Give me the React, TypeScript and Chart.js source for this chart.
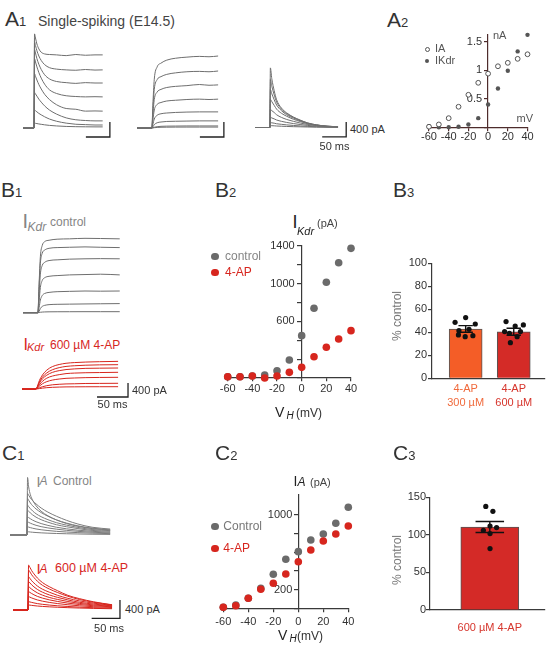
import React, { useEffect, useRef } from 'react';
import { Chart, registerables } from 'chart.js';

Chart.register(...registerables);

const FONT = "'Liberation Sans', Arial, Helvetica, sans-serif";

/* ===================== DATA ===================== */

// scale bar sizes for the current traces
const SCALE_MS = 50;
const SCALE_PA = 400;

// A1 – mixed outward current (ms / pA)
const A1_TOTAL_TIME = [0, 23, 24, 26, 29, 33, 38, 45, 55, 70, 90, 110, 130, 150, 166];
const A1_TOTAL = [
  [0, 0, 2510, 2400, 2240, 2110, 2020, 1975, 1960, 1950, 1930, 1960, 1940, 1950, 1950],
  [0, 0, 2300, 2200, 2060, 1920, 1800, 1690, 1610, 1570, 1550, 1540, 1560, 1545, 1550],
  [0, 0, 2100, 2000, 1850, 1700, 1560, 1420, 1310, 1240, 1210, 1190, 1210, 1200, 1200],
  [0, 0, 1850, 1760, 1630, 1480, 1330, 1170, 1020, 920, 860, 840, 830, 835, 830],
  [0, 0, 1450, 1380, 1280, 1160, 1040, 900, 760, 620, 520, 500, 450, 455, 450],
  [0, 0, 950, 910, 850, 770, 690, 590, 480, 370, 270, 220, 200, 190, 190],
  [0, 0, 480, 460, 430, 390, 350, 300, 240, 180, 130, 100, 90, 80, 80],
  [0, 0, 130, 125, 118, 108, 98, 85, 70, 55, 42, 35, 32, 30, 30],
];
// A1 – IKdr
const A1_KDR_TIME = [0, 31, 33, 36, 42, 50, 62, 80, 104, 130, 150, 169];
const A1_KDR = [
  [0, 0, 600, 1300, 1630, 1730, 1810, 1860, 1890, 1910, 1900, 1920],
  [0, 0, 470, 1030, 1290, 1370, 1430, 1470, 1500, 1510, 1500, 1520],
  [0, 0, 340, 760, 960, 1030, 1080, 1110, 1130, 1160, 1140, 1150],
  [0, 0, 200, 480, 630, 680, 720, 740, 760, 770, 760, 770],
  [0, 0, 90, 240, 340, 380, 400, 415, 425, 430, 430, 430],
  [0, 0, 30, 90, 140, 160, 175, 180, 185, 190, 190, 190],
  [0, 0, 5, 20, 35, 45, 50, 52, 55, 55, 55, 55],
  [0, 0, 2, 8, 15, 20, 22, 24, 25, 25, 25, 25],
];
// A1 – IA
const A1_IA_TIME = [0, 31, 32, 35, 40, 45, 55, 66, 80, 94, 110, 128, 150, 173];
const A1_IA = [
  [0, 0, 1590, 1300, 980, 740, 520, 390, 280, 200, 120, 70, 35, 20],
  [0, 0, 1280, 1100, 870, 680, 490, 370, 270, 190, 120, 70, 35, 20],
  [0, 0, 1010, 900, 740, 600, 450, 340, 250, 180, 110, 65, 35, 20],
  [0, 0, 750, 690, 590, 490, 380, 300, 220, 160, 100, 60, 30, 15],
  [0, 0, 480, 450, 400, 340, 270, 215, 165, 120, 80, 50, 25, 15],
  [0, 0, 270, 255, 230, 200, 165, 135, 105, 80, 55, 35, 20, 10],
  [0, 0, 130, 125, 115, 100, 85, 70, 55, 42, 30, 20, 12, 8],
  [0, 0, 50, 48, 45, 40, 34, 28, 22, 18, 13, 9, 6, 4],
];

// A2 – I-V (nA vs mV)
const A2_VOLT = [-60, -50, -40, -30, -20, -10, 0, 10, 20, 30, 40];
const A2_IA = [0.01, 0.05, 0.16, 0.36, 0.57, 0.78, 0.94, 1.07, 1.13, 1.2, 1.28];
const A2_IKDR = [0.02, 0.0, 0.0, 0.01, 0.05, 0.16, 0.4, 0.68, 0.99, 1.33, 1.62];
const A2_XTICKS = [-60, -40, -20, 0, 20, 40];
const A2_YTICKS = [0, 0.5, 1, 1.5];

// B1 – IKdr traces
const B1_CTRL_TIME = [0, 24, 26, 28, 31, 35, 42, 55, 75, 100, 125, 156];
const B1_CTRL = [
  [0, 0, 850, 1600, 1920, 2030, 2070, 2100, 2110, 2125, 2120, 2110],
  [0, 0, 750, 1410, 1700, 1790, 1840, 1860, 1870, 1880, 1870, 1860],
  [0, 0, 560, 1100, 1350, 1440, 1490, 1510, 1530, 1540, 1545, 1540],
  [0, 0, 330, 720, 920, 1000, 1040, 1060, 1080, 1090, 1100, 1080],
  [0, 0, 150, 360, 490, 550, 580, 600, 610, 620, 615, 620],
  [0, 0, 40, 120, 180, 210, 230, 240, 245, 250, 255, 260],
  [0, 0, 5, 12, 18, 22, 25, 27, 28, 29, 29, 29],
];
const B1_4AP_TIME = [0, 21, 24, 28, 33, 40, 49, 60, 71, 85, 103, 125, 155];
const B1_4AP = [
  [0, 0, 40, 240, 400, 540, 640, 700, 735, 755, 770, 780, 790],
  [0, 0, 35, 200, 340, 460, 550, 610, 645, 665, 680, 690, 695],
  [0, 0, 30, 170, 290, 395, 475, 525, 555, 575, 590, 595, 600],
  [0, 0, 20, 120, 220, 310, 370, 410, 440, 455, 465, 470, 477],
  [0, 0, 15, 80, 150, 210, 255, 285, 305, 315, 325, 330, 334],
  [0, 0, 8, 35, 65, 95, 120, 135, 145, 150, 158, 160, 163],
  [0, 0, 3, 12, 25, 38, 48, 55, 60, 62, 64, 65, 66],
];

// B2 – IKdr I-V (pA)
const B2_VOLT = [-60, -50, -40, -30, -20, -10, 0, 10, 20, 30, 40];
const B2_CONTROL = [14, 14, 21, 32, 77, 191, 449, 739, 1015, 1223, 1375];
const B2_4AP = [14, 14, 21, 0, 21, 60, 113, 226, 326, 414, 502];
const B2_XTICKS = [-60, -40, -20, 0, 20, 40];
const B2_YTICKS = [0, 200, 400, 600, 800, 1000, 1200, 1400];
const B2_YLABELS = [600, 1000, 1400];

// B3 – % control
const B3_LABELS = [['4-AP', '300 µM'], ['4-AP', '600 µM']];
const B3_X = [1, 2];
const B3_MEAN = [42.9, 40.5];
const B3_SEM = [2.9, 3.0];
const B3_CELLS = [
  [48.7, 52.8, 47.2, 41.4, 42.6, 36.2, 37.7, 37.1],
  [49.3, 45.5, 46.4, 39.1, 36.2, 31.0, 40.6, 40.6],
];
const B3_JITTER = [
  [-0.22, 0.0, 0.2, -0.14, 0.07, -0.01, -0.15, 0.15],
  [-0.16, 0.03, 0.2, -0.09, 0.07, -0.07, -0.19, 0.14],
];
const B3_YTICKS = [0, 20, 40, 60, 80, 100];

// C1 – IA traces
const C1_CTRL_TIME = [0, 30, 31, 33, 36, 40, 46, 55, 67, 82, 100, 120, 145, 177];
const C1_CTRL = [
  [0, 0, 1258, 1050, 880, 760, 640, 520, 420, 330, 250, 190, 140, 110],
  [0, 0, 909, 870, 810, 750, 680, 590, 500, 410, 320, 240, 170, 130],
  [0, 0, 800, 760, 700, 640, 570, 490, 410, 330, 260, 200, 150, 110],
  [0, 0, 654, 620, 575, 525, 465, 400, 335, 270, 215, 165, 120, 95],
  [0, 0, 545, 520, 480, 440, 390, 335, 280, 225, 180, 140, 100, 80],
  [0, 0, 400, 380, 355, 325, 290, 250, 210, 170, 135, 105, 80, 60],
  [0, 0, 290, 275, 258, 238, 212, 183, 155, 128, 102, 80, 60, 45],
  [0, 0, 181, 172, 161, 148, 132, 115, 98, 80, 65, 52, 40, 30],
  [0, 0, 72, 69, 65, 60, 54, 47, 40, 33, 27, 22, 17, 13],
];
const C1_4AP_TIME = [0, 26.5, 27.5, 30, 33, 37, 43, 52, 64, 79, 97, 117, 142, 175];
const C1_4AP = [
  [0, 0, 982, 930, 860, 790, 700, 600, 510, 420, 320, 250, 180, 115],
  [0, 0, 873, 830, 770, 710, 630, 540, 460, 380, 300, 230, 170, 110],
  [0, 0, 727, 690, 640, 590, 525, 455, 390, 320, 255, 200, 150, 100],
  [0, 0, 618, 590, 550, 505, 450, 390, 330, 275, 220, 170, 130, 90],
  [0, 0, 509, 485, 455, 420, 375, 325, 275, 230, 185, 145, 110, 80],
  [0, 0, 400, 383, 360, 332, 298, 260, 222, 186, 150, 120, 92, 70],
  [0, 0, 291, 280, 264, 245, 220, 193, 166, 140, 115, 92, 72, 55],
  [0, 0, 181, 175, 166, 155, 140, 124, 108, 92, 77, 63, 50, 40],
  [0, 0, 109, 106, 101, 95, 87, 78, 69, 60, 51, 43, 35, 28],
];

// C2 – IA I-V (pA)
const C2_VOLT = [-60, -50, -40, -30, -20, -10, 0, 10, 20, 30, 40];
const C2_CONTROL = [13, 37, 109, 215, 365, 525, 606, 731, 795, 909, 1079];
const C2_4AP = [13, 30, 109, 205, 269, 368, 499, 624, 720, 795, 880];
const C2_XTICKS = [-60, -40, -20, 0, 20, 40];
const C2_YTICKS = [0, 200, 400, 600, 800, 1000];
const C2_YLABELS = [200, 1000];

// C3 – % control
const C3_LABELS = ['600 µM 4-AP'];
const C3_X = [1];
const C3_MEAN = [110.5];
const C3_SEM = [7.3];
const C3_CELLS = [[137.9, 131.3, 111.8, 109.7, 106.1, 101.7, 81.8]];
const C3_JITTER = [[-0.035, 0.027, 0.002, 0.059, -0.056, 0.002, 0.002]];
const C3_YTICKS = [0, 50, 100, 150];

/* ===================== STYLE ===================== */
const GRAY_TRACE = '#6e6e6e';
const GRAY_TRACE_C = '#7c7c7c';
const RED = '#d7261e';
const DOT_GRAY = '#6b6b6b';
const LABEL_GRAY = '#858585';
const AXIS = '#3a3a3a';
const AXIS_A2 = '#4e2c2c';
const BAR_COLORS_B3 = ['#f45d27', '#d42b27'];
const BAR_TEXT_B3 = ['#f06a3c', '#d6352c'];
const BAR_COLORS_C3 = ['#d42a27'];

/* ===================== HELPERS ===================== */
function ChartBox({ left, top, width, height, config }: any) {
  const ref = useRef<HTMLCanvasElement>(null);
  useEffect(() => {
    const chart = new Chart(ref.current as HTMLCanvasElement, config);
    return () => chart.destroy();
  }, []);
  return (
    <canvas
      ref={ref}
      width={width}
      height={height}
      style={{ position: 'absolute', left, top, width, height }}
    />
  );
}

function Txt({ x, y, size = 12, color = '#333', italic = false, align = 'left', children }: any) {
  const style: any = {
    position: 'absolute',
    left: x,
    top: y - 0.8465 * size,
    fontSize: size,
    lineHeight: `${size}px`,
    color,
    fontFamily: FONT,
    fontStyle: italic ? 'italic' : 'normal',
    whiteSpace: 'nowrap',
  };
  if (align === 'center') style.transform = 'translateX(-50%)';
  if (align === 'right') style.transform = 'translateX(-100%)';
  return <div style={style}>{children}</div>;
}

function PanelLabel({ x, y, letter, num }: any) {
  return (
    <div
      style={{
        position: 'absolute', left: x, top: y - 0.8465 * 21, fontSize: 21, lineHeight: '21px',
        color: '#333', fontFamily: FONT, whiteSpace: 'nowrap',
      }}
    >
      {letter}
      <span style={{ fontSize: 13 }}>{num}</span>
    </div>
  );
}

function VText({ cx, cy, size = 12, color = '#777', children }: any) {
  return (
    <div
      style={{
        position: 'absolute', left: cx, top: cy, fontSize: size, lineHeight: `${size}px`, color,
        fontFamily: FONT, whiteSpace: 'nowrap', transform: 'translate(-50%,-50%) rotate(-90deg)',
      }}
    >
      {children}
    </div>
  );
}

function Dot({ cx, cy, r, fill, stroke }: any) {
  return (
    <div
      style={{
        position: 'absolute', left: cx - r, top: cy - r, width: 2 * r, height: 2 * r, borderRadius: '50%',
        background: fill, border: stroke ? `1px solid ${stroke}` : 'none', boxSizing: 'border-box',
      }}
    />
  );
}

const noPad = (s: any) => {
  s.paddingLeft = 0;
  s.paddingRight = 0;
  s.paddingTop = 0;
  s.paddingBottom = 0;
};

const baseOptions = (padding: any) => ({
  animation: false,
  responsive: false,
  events: [],
  layout: { padding },
  plugins: { legend: { display: false }, tooltip: { enabled: false } },
});

// trace panels
function traceConfig(p: any) {
  const xMin = -(p.x0 - p.left) * p.msPerPx;
  const xMax = xMin + p.width * p.msPerPx;
  const yMax = (p.y0 - p.top) * p.pAPerPx;
  const yMin = yMax - p.height * p.pAPerPx;
  const datasets: any[] = p.traces.map((vals: number[]) => ({
    data: vals.map((v, i) => ({ x: p.time[i], y: v })),
    borderColor: p.color,
    borderWidth: 1,
    pointRadius: 0,
    cubicInterpolationMode: 'monotone',
    clip: false,
  }));
  if (p.bar) {
    datasets.push({
      data: [
        { x: p.bar.t, y: p.bar.i },
        { x: p.bar.t + SCALE_MS, y: p.bar.i },
        { x: p.bar.t + SCALE_MS, y: p.bar.i + SCALE_PA },
      ],
      borderColor: '#222',
      borderWidth: 1.3,
      pointRadius: 0,
      tension: 0,
      clip: false,
    });
  }
  return {
    type: 'line',
    data: { datasets },
    options: {
      ...baseOptions(0),
      scales: {
        x: { type: 'linear', display: false, min: xMin, max: xMax },
        y: { type: 'linear', display: false, min: yMin, max: yMax },
      },
    },
  };
}

function crossAxis(o: any) {
  const shift = o.tickLength + o.padding;
  return {
    type: 'linear',
    min: o.min,
    max: o.max,
    offset: false,
    position: o.dir === 'x' ? { y: o.cross } : { x: o.cross },
    border: { display: true, color: o.color, width: 1.2 },
    grid: {
      display: true, drawOnChartArea: false, drawTicks: o.tickLength > 0,
      tickLength: o.tickLength, color: o.color, lineWidth: 1.2, offset: false,
    },
    ticks: {
      autoSkip: false, maxRotation: 0, minRotation: 0, padding: o.padding,
      color: o.textColor || '#333',
      font: { family: FONT, size: o.fontSize, lineHeight: o.lineHeight || 1.2 },
      callback: o.labels || ((v: number) => String(v)),
    },
    afterBuildTicks: (s: any) => {
      s.ticks = o.ticks.map((v: number) => ({ value: v }));
    },
    afterFit: noPad,
    // a y-axis crossing at a value keeps its labels on the axis line: move them left of the tick marks
    afterUpdate: (s: any) => {
      if (o.dir !== 'y' || s.__shifted) return;
      s.__shifted = true;
      const proto = Object.getPrototypeOf(s);
      s._computeLabelItems = function (ca: any) {
        const items = proto._computeLabelItems.call(this, ca);
        items.forEach((it: any) => {
          if (it.options && it.options.translation) {
            it.options.translation = [it.options.translation[0] - shift, it.options.translation[1]];
          }
        });
        return items;
      };
    },
  };
}

function ivConfig(o: any) {
  return {
    type: 'scatter',
    data: { datasets: o.datasets },
    options: {
      ...baseOptions(o.pad),
      scales: {
        x: crossAxis({ dir: 'x', min: o.xMin, max: o.xMax, cross: 0, ticks: o.xTicks, color: o.axisColor, tickLength: 3, padding: o.xPad, fontSize: o.fontSize }),
        y: crossAxis({ dir: 'y', min: o.yMin, max: o.yMax, cross: 0, ticks: o.yTicks, labels: o.yLabel, color: o.axisColor, tickLength: o.yTick, padding: o.yPad, fontSize: o.fontSize }),
      },
    },
  };
}

const pts = (xs: number[], ys: number[]) => xs.map((x, i) => ({ x, y: ys[i] }));

function barConfig(o: any) {
  const points: any[] = [];
  o.cells.forEach((vals: number[], g: number) =>
    vals.forEach((v, k) => points.push({ x: o.xs[g] + o.jitter[g][k], y: v })),
  );
  const err: any[] = [];
  o.means.forEach((m: number, g: number) => {
    const x = o.xs[g];
    const hi = m + o.sem[g];
    const lo = m - o.sem[g];
    const c = o.cap;
    err.push(
      { x: x - c, y: hi }, { x: x + c, y: hi }, { x, y: null },
      { x, y: hi }, { x, y: lo }, { x, y: null },
      { x: x - c, y: lo }, { x: x + c, y: lo }, { x, y: null },
    );
  });
  return {
    type: 'bar',
    data: {
      datasets: [
        { type: 'scatter', data: points, pointRadius: 2.6, pointBackgroundColor: '#111', pointBorderWidth: 0, clip: false },
        { type: 'line', data: err, borderColor: '#111', borderWidth: 1.4, pointRadius: 0, spanGaps: false, tension: 0, clip: false },
        {
          type: 'bar',
          data: o.means.map((m: number, g: number) => ({ x: o.xs[g], y: m })),
          backgroundColor: o.colors,
          borderColor: '#555',
          borderWidth: 1,
          barThickness: o.barW,
        },
      ],
    },
    options: {
      ...baseOptions(o.pad),
      scales: {
        x: crossAxis({
          dir: 'x', min: o.xMin, max: o.xMax, cross: 0, ticks: o.xs, color: AXIS, tickLength: 0,
          padding: o.xPad, fontSize: 11, lineHeight: 14 / 11,
          labels: (_v: number, i: number) => o.labels[i],
          textColor: (ctx: any) => o.textColors[ctx.index] || '#333',
        }),
        y: crossAxis({
          dir: 'y', min: 0, max: o.yMax, cross: o.xMin, ticks: o.yTicks, color: AXIS, tickLength: 3,
          padding: o.yPad, fontSize: 11,
        }),
      },
    },
  };
}

/* ===================== PANELS ===================== */
const A1_MS = SCALE_MS / 24;
const A1_PA = SCALE_PA / 15;
const P_A1_TOTAL = { left: 18, top: 25, width: 96, height: 116, x0: 23, y0: 128, msPerPx: A1_MS, pAPerPx: A1_PA, time: A1_TOTAL_TIME, traces: A1_TOTAL, color: GRAY_TRACE, bar: { t: 131, i: -240 } };
const P_A1_KDR = { left: 132, top: 25, width: 96, height: 116, x0: 137, y0: 128, msPerPx: A1_MS, pAPerPx: A1_PA, time: A1_KDR_TIME, traces: A1_KDR, color: GRAY_TRACE, bar: { t: 131, i: -240 } };
const P_A1_IA = { left: 250, top: 25, width: 100, height: 116, x0: 255, y0: 127.5, msPerPx: A1_MS, pAPerPx: A1_PA, time: A1_IA_TIME, traces: A1_IA, color: GRAY_TRACE, bar: { t: 140, i: -250 } };

const B1_MS = SCALE_MS / 31;
const B1_PA = SCALE_PA / 14;
const P_B1_CTRL = { left: 18, top: 230, width: 110, height: 88, x0: 23, y0: 312.7, msPerPx: B1_MS, pAPerPx: B1_PA, time: B1_CTRL_TIME, traces: B1_CTRL, color: GRAY_TRACE };
const P_B1_4AP = { left: 18, top: 350, width: 115, height: 52, x0: 22, y0: 389, msPerPx: B1_MS, pAPerPx: B1_PA, time: B1_4AP_TIME, traces: B1_4AP, color: RED, bar: { t: 121, i: -229 } };

const C1_MS = SCALE_MS / 28.3;
const C1_PA = SCALE_PA / 18.3;
const P_C1_CTRL = { left: 5, top: 470, width: 110, height: 70, x0: 10, y0: 535, msPerPx: C1_MS, pAPerPx: C1_PA, time: C1_CTRL_TIME, traces: C1_CTRL, color: GRAY_TRACE_C };
const P_C1_4AP = { left: 8, top: 558, width: 117, height: 66, x0: 13, y0: 610, msPerPx: C1_MS, pAPerPx: C1_PA, time: C1_4AP_TIME, traces: C1_4AP, color: RED, bar: { t: 139, i: -181 } };

const A2_CONFIG = ivConfig({
  pad: { left: 28, right: 17, top: 6.3, bottom: 25.7 },
  xMin: -61, xMax: 40.5, yMin: 0, yMax: 1.63,
  xTicks: A2_XTICKS, yTicks: A2_YTICKS,
  yLabel: (v: number) => (v === 0 ? '' : String(v)),
  axisColor: AXIS_A2, fontSize: 11, xPad: 0, yPad: 3, yTick: 3,
  datasets: [
    { data: pts(A2_VOLT, A2_IA), pointRadius: 2.4, pointBackgroundColor: '#fff', pointBorderColor: '#555', pointBorderWidth: 1, clip: false },
    { data: pts(A2_VOLT, A2_IKDR), pointRadius: 2.2, pointBackgroundColor: '#555', pointBorderWidth: 0, clip: false },
  ],
});

const B2_CONFIG = ivConfig({
  pad: { left: 27.7, right: 9, top: 10, bottom: 28 },
  xMin: -60, xMax: 40, yMin: 0, yMax: 1400,
  xTicks: B2_XTICKS, yTicks: B2_YTICKS,
  yLabel: (v: number) => (B2_YLABELS.includes(v) ? String(v) : ''),
  axisColor: AXIS, fontSize: 11, xPad: 1, yPad: 3, yTick: 4,
  datasets: [
    { data: pts(B2_VOLT, B2_4AP), pointRadius: 3.8, pointBackgroundColor: RED, pointBorderWidth: 0, clip: false },
    { data: pts(B2_VOLT, B2_CONTROL), pointRadius: 3.8, pointBackgroundColor: DOT_GRAY, pointBorderWidth: 0, clip: false },
  ],
});

const C2_CONFIG = ivConfig({
  pad: { left: 23.3, right: 11.7, top: 15, bottom: 41.5 },
  xMin: -60, xMax: 40, yMin: 0, yMax: 1210,
  xTicks: C2_XTICKS, yTicks: C2_YTICKS,
  yLabel: (v: number) => (C2_YLABELS.includes(v) ? String(v) : ''),
  axisColor: AXIS, fontSize: 11, xPad: 3.5, yPad: 2, yTick: 4,
  datasets: [
    { data: pts(C2_VOLT, C2_4AP), pointRadius: 3.8, pointBackgroundColor: RED, pointBorderWidth: 0, clip: false },
    { data: pts(C2_VOLT, C2_CONTROL), pointRadius: 3.8, pointBackgroundColor: DOT_GRAY, pointBorderWidth: 0, clip: false },
  ],
});

const B3_CONFIG = barConfig({
  pad: { left: 62, right: 1, top: 13.3, bottom: 36.7 },
  xMin: 0.3, xMax: 2.65, xs: B3_X, means: B3_MEAN, sem: B3_SEM, cells: B3_CELLS, jitter: B3_JITTER,
  cap: 0.15, barW: 33, colors: BAR_COLORS_B3, labels: B3_LABELS, textColors: BAR_TEXT_B3,
  yMax: 100, yTicks: B3_YTICKS, xPad: 4, yPad: 2,
});

const C3_CONFIG = barConfig({
  pad: { left: 60, right: 2, top: 12.3, bottom: 35 },
  xMin: 0.48, xMax: 1.48, xs: C3_X, means: C3_MEAN, sem: C3_SEM, cells: C3_CELLS, jitter: C3_JITTER,
  cap: 0.124, barW: 58, colors: BAR_COLORS_C3, labels: C3_LABELS, textColors: [BAR_TEXT_B3[1]],
  yMax: 150, yTicks: C3_YTICKS, xPad: 11, yPad: 1,
});

/* ===================== APP ===================== */
export default function App() {
  return (
    <div style={{ position: 'absolute', left: 0, top: 0, width: 549, height: 651, background: '#fff', overflow: 'hidden', fontFamily: FONT }}>
      {/* ---------- A1 ---------- */}
      <PanelLabel x={5} y={26} letter="A" num="1" />
      <Txt x={38} y={26} size={14} color="#444">Single-spiking (E14.5)</Txt>
      <ChartBox {...P_A1_TOTAL} config={traceConfig(P_A1_TOTAL)} />
      <ChartBox {...P_A1_KDR} config={traceConfig(P_A1_KDR)} />
      <ChartBox {...P_A1_IA} config={traceConfig(P_A1_IA)} />
      <Txt x={350} y={133} size={11} color="#333">400 pA</Txt>
      <Txt x={334.5} y={150.5} size={11} color="#333" align="center">50 ms</Txt>

      {/* ---------- A2 ---------- */}
      <PanelLabel x={387} y={27} letter="A" num="2" />
      <ChartBox left={400} top={28} width={145} height={125} config={A2_CONFIG} />
      <Txt x={493} y={39.3} size={11} color="#555">nA</Txt>
      <Txt x={516.5} y={122.7} size={11} color="#555">mV</Txt>
      <Dot cx={427.3} cy={49} r={2.5} fill="#fff" stroke="#555" />
      <Dot cx={427.3} cy={61} r={2.2} fill="#555" />
      <Txt x={435} y={52.5} size={11} color="#555">IA</Txt>
      <Txt x={435} y={64.5} size={11} color="#555">IKdr</Txt>

      {/* ---------- B1 ---------- */}
      <PanelLabel x={1} y={197} letter="B" num="1" />
      <Txt x={22.5} y={228.3} size={20} color={LABEL_GRAY}>I</Txt>
      <Txt x={27.5} y={231} size={12} color={LABEL_GRAY} italic>Kdr</Txt>
      <Txt x={50} y={226} size={12} color={LABEL_GRAY}>control</Txt>
      <ChartBox {...P_B1_CTRL} config={traceConfig(P_B1_CTRL)} />
      <Txt x={23.5} y={350.7} size={16} color={RED}>I</Txt>
      <Txt x={27} y={351} size={11} color={RED} italic>Kdr</Txt>
      <Txt x={50} y={349} size={12} color={RED}>600 µM 4-AP</Txt>
      <ChartBox {...P_B1_4AP} config={traceConfig(P_B1_4AP)} />
      <Txt x={132} y={394} size={11} color="#333">400 pA</Txt>
      <Txt x={112.5} y={408.3} size={11} color="#333" align="center">50 ms</Txt>

      {/* ---------- B2 ---------- */}
      <PanelLabel x={215} y={197} letter="B" num="2" />
      <ChartBox left={200} top={236} width={160} height={170} config={B2_CONFIG} />
      <Txt x={292.5} y={228.3} size={18} color="#222">I</Txt>
      <Txt x={297} y={235} size={11} color="#222" italic>Kdr</Txt>
      <Txt x={317} y={227} size={11} color="#444">(pA)</Txt>
      <Txt x={275} y={416.7} size={14} color="#222">V</Txt>
      <Txt x={286.5} y={419} size={10} color="#222" italic>H</Txt>
      <Txt x={296} y={416.7} size={12} color="#333">(mV)</Txt>
      <Dot cx={215} cy={256.7} r={3.8} fill={DOT_GRAY} />
      <Txt x={225} y={260} size={12} color={LABEL_GRAY}>control</Txt>
      <Dot cx={215} cy={272.7} r={3.8} fill={RED} />
      <Txt x={225} y={276.5} size={12} color={RED}>4-AP</Txt>

      {/* ---------- B3 ---------- */}
      <PanelLabel x={393} y={197} letter="B" num="3" />
      <ChartBox left={370} top={250} width={179} height={165} config={B3_CONFIG} />
      <VText cx={397} cy={315.5} size={12} color="#777">% control</VText>

      {/* ---------- C1 ---------- */}
      <PanelLabel x={2} y={459.5} letter="C" num="1" />
      <Txt x={36.5} y={486.7} size={14} color={LABEL_GRAY}>I</Txt>
      <Txt x={39.5} y={485} size={12} color={LABEL_GRAY} italic>A</Txt>
      <Txt x={53} y={485} size={12} color={LABEL_GRAY}>Control</Txt>
      <ChartBox {...P_C1_CTRL} config={traceConfig(P_C1_CTRL)} />
      <Txt x={36.5} y={574} size={15} color={RED}>I</Txt>
      <Txt x={39.5} y={572.7} size={12} color={RED} italic>A</Txt>
      <Txt x={55} y={572.7} size={12.5} color={RED}>600 µM 4-AP</Txt>
      <ChartBox {...P_C1_4AP} config={traceConfig(P_C1_4AP)} />
      <Txt x={125} y={613.5} size={11} color="#333">400 pA</Txt>
      <Txt x={109} y={632} size={11} color="#333" align="center">50 ms</Txt>

      {/* ---------- C2 ---------- */}
      <PanelLabel x={215} y={460} letter="C" num="2" />
      <ChartBox left={200} top={480} width={160} height={170} config={C2_CONFIG} />
      <Txt x={293.5} y={486} size={14} color="#222">I</Txt>
      <Txt x={297.5} y={486} size={12} color="#222" italic>A</Txt>
      <Txt x={310} y={486} size={11} color="#444">(pA)</Txt>
      <Txt x={278} y={640} size={14} color="#222">V</Txt>
      <Txt x={289.5} y={642.5} size={10} color="#222" italic>H</Txt>
      <Txt x={297} y={640} size={12} color="#333">(mV)</Txt>
      <Dot cx={215} cy={526.7} r={3.8} fill={DOT_GRAY} />
      <Txt x={223.3} y={530} size={12} color="#777">Control</Txt>
      <Dot cx={215} cy={548.3} r={3.8} fill={RED} />
      <Txt x={223.3} y={552} size={12} color={RED}>4-AP</Txt>

      {/* ---------- C3 ---------- */}
      <PanelLabel x={393} y={460} letter="C" num="3" />
      <ChartBox left={370} top={485} width={179} height={160} config={C3_CONFIG} />
      <VText cx={397} cy={560} size={12} color="#777">% control</VText>
    </div>
  );
}
